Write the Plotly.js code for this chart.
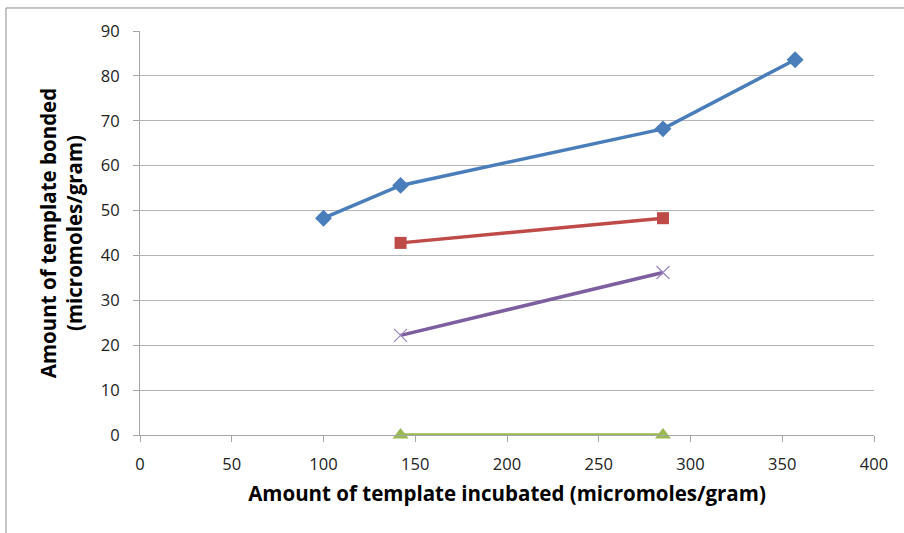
<!DOCTYPE html>
<html><head><meta charset="utf-8">
<script src="https://cdn.plot.ly/plotly-3.0.1.min.js"></script>
<style>body{margin:0;background:#fff}#c{width:904px;height:533px}</style>
</head><body><div id="c"></div>
<script>
const blueX=[100,142,285,357], blueY=[48.3,55.6,68.2,83.6];
const redX=[142,285], redY=[42.8,48.3];
const purpleX=[142,285], purpleY=[22.2,36.2];
const greenX=[142,285], greenY=[0,0];
const xTicks=[0,50,100,150,200,250,300,350,400];
const yTicks=[0,10,20,30,40,50,60,70,80,90];
const F="'Open Sans', sans-serif";
const traces=[
 {x:blueX,y:blueY,mode:'lines+markers',line:{color:'#4a7ebb',width:3.5},marker:{symbol:'diamond',size:13,color:'#4a7ebb'}},
 {x:redX,y:redY,mode:'lines+markers',line:{color:'#be4b48',width:3.5},marker:{symbol:'square',size:12,color:'#be4b48'}},
 {x:purpleX,y:purpleY,mode:'lines+markers',line:{color:'#7d5fa0',width:3.5},marker:{symbol:'x-thin',size:13,line:{color:'#9a85c0',width:1.2}}},
 {x:greenX,y:greenY,mode:'lines+markers',line:{color:'#98b954',width:3.5},marker:{symbol:'triangle-up',size:14,color:'#98b954'},cliponaxis:false}
];
const layout={
 width:904,height:533,showlegend:false,
 margin:{l:140,r:30,t:31,b:98},
 paper_bgcolor:'#fff',plot_bgcolor:'#fff',
 font:{family:F,size:16,color:'#222'},
 xaxis:{range:[0,400],tickvals:xTicks,showgrid:false,zeroline:false,showline:true,linecolor:'#a6a6a6',linewidth:1,
   ticks:'outside',ticklen:6,tickcolor:'#a6a6a6',ticklabelstandoff:8,tickfont:{family:F,size:16.5,color:'#222'},
   title:{text:'Amount of template incubated (micromoles/gram)',font:{family:F,size:20.5,color:'#000',weight:'bold'},standoff:12}},
 yaxis:{range:[0,90],tickvals:yTicks,showgrid:true,gridcolor:'#b3b3b3',gridwidth:1,zeroline:false,showline:true,linecolor:'#a6a6a6',
   ticks:'outside',ticklen:6,tickcolor:'#a6a6a6',ticklabelstandoff:10,tickfont:{family:F,size:16.5,color:'#222'},
   title:{text:'Amount of template bonded<br>(micromoles/gram)',font:{family:F,size:20.5,color:'#000',weight:'bold'},standoff:12}},
 shapes:[{type:'rect',xref:'paper',yref:'paper',x0:-0.1826,x1:1.2,y0:-0.3,y1:1.057,line:{color:'#8c8c8c',width:1},fillcolor:'rgba(0,0,0,0)'}]
};
Plotly.newPlot('c',traces,layout,{displayModeBar:false,staticPlot:true});
</script></body></html>
